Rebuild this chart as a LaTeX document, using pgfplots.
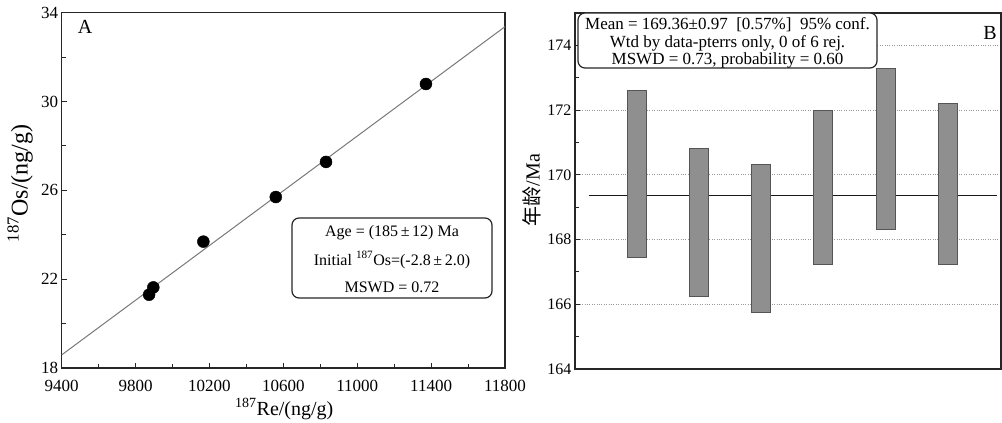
\documentclass[border=0pt]{standalone}
\usepackage{pgfplots}
\usepackage{pgfplotstable}
\pgfplotsset{compat=1.18}
\usepackage{fontspec}
\setmainfont{Liberation Serif}
\newfontfamily\cjk{Noto Sans CJK SC}
\definecolor{bargray}{RGB}{143,143,143}
\definecolor{baredge}{RGB}{85,85,85}
\definecolor{linegray}{RGB}{120,120,120}

\pgfplotstableread{
re os
9873 21.30
9896 21.63
10167 23.69
10559 25.70
10831 27.28
11372 30.79
}\redata

\pgfplotstableread{
x lo hi
1 167.44 172.61
2 166.23 170.80
3 165.74 170.31
4 167.23 171.99
5 168.31 173.29
6 167.23 172.20
}\agedata

\begin{document}
\begin{tikzpicture}[x=1pt,y=1pt]
\path[use as bounding box] (0,0) rectangle (1002,423);

% ---------------- Panel A
\begin{axis}[
  at={(61.7pt,55pt)}, anchor=south west, scale only axis,
  width=443.3pt, height=355.3pt,
  xmin=9400, xmax=11800, ymin=18, ymax=34,
  scaled x ticks=false, scaled y ticks=false,
  xtick={9400,9800,...,11800}, minor xtick={9600,10000,...,11600},
  ytick={18,22,...,34}, minor ytick={20,24,...,32},
  xtick pos=left, ytick pos=left, tick align=inside,
  major tick length=5pt, minor tick length=4pt,
  axis line style={line width=1.4pt, black!85},
  every tick/.style={black!85, line width=0.9pt},
  ticklabel style={font=\fontsize{17}{17}\selectfont},
  xticklabel style={yshift=-9pt},
  /pgf/number format/assume math mode=true,
  /pgf/number format/1000 sep={},
  xlabel={\textsuperscript{187}Re/(ng/g)},
  xlabel style={at={(axis description cs:0.502,-0.116)}, anchor=center, font=\fontsize{20}{20}\selectfont},
  ylabel={\textsuperscript{187}Os/(ng/g)},
  ylabel style={at={(axis description cs:-0.094,0.52)}, anchor=center, font=\fontsize{24}{24}\selectfont},
  clip=true,
]
\addplot[linegray, line width=1pt] coordinates {(9400,18.59) (11800,33.37)};
\addplot[only marks, mark=*, mark size=6pt, mark options={fill=black, draw=black}] table[x=re, y=os] {\redata};
\end{axis}

\node[font=\fontsize{20}{20}\selectfont] at (85,396) {A};
\draw[rounded corners=7pt, line width=1.2pt, black!85] (292,205) rectangle (492,125);
\node[font=\fontsize{16}{16}\selectfont] at (392,190) {Age = (185\,±\,12) Ma};
\node[font=\fontsize{16}{16}\selectfont] at (392,163) {Initial \textsuperscript{187}Os=(-2.8\,±\,2.0)};
\node[font=\fontsize{16}{16}\selectfont] at (392,136) {MSWD = 0.72};

% ---------------- Panel B: frame, grid, mean line
\begin{axis}[
  at={(575pt,54pt)}, anchor=south west, scale only axis,
  width=426pt, height=356pt,
  xmin=0, xmax=6.86, ymin=164, ymax=175,
  xtick=\empty,
  ytick={164,166,...,174}, minor ytick={165,167,...,173},
  ytick pos=left, tick align=inside,
  major tick length=5pt, minor tick length=4pt,
  ymajorgrids, grid style={dotted, line width=0.8pt, black!40},
  axis line style={line width=1.4pt, black!85},
  every tick/.style={black!85, line width=0.9pt},
  ticklabel style={font=\fontsize{16}{16}\selectfont},
  /pgf/number format/assume math mode=true,
  ylabel={{\cjk 年龄}/Ma},
  ylabel style={at={(axis description cs:-0.101,0.503)}, anchor=center, font=\fontsize{20}{20}\selectfont},
]
\addplot[black!90, line width=1.8pt] coordinates {(0.22,169.36) (6.8,169.36)};
\end{axis}

% ---------------- Panel B: floating bars
\begin{axis}[
  at={(575pt,54pt)}, anchor=south west, scale only axis,
  width=426pt, height=356pt,
  xmin=0, xmax=6.86, ymin=164, ymax=175,
  hide axis, ybar stacked, bar width=19pt,
]
\addplot[draw=none, fill=none] table[x=x, y=lo] {\agedata};
\addplot[fill=bargray, draw=baredge, line width=0.9pt] table[x=x, y expr=\thisrow{hi}-\thisrow{lo}] {\agedata};
\end{axis}

\node[font=\fontsize{20}{20}\selectfont] at (990,390) {B};
\draw[rounded corners=7pt, line width=1.2pt, black!85, fill=white] (578,410) rectangle (877,355);
\node[font=\fontsize{17}{17}\selectfont] at (727.5,398) {Mean = 169.36±0.97\ \ [0.57\%]\ \ 95\% conf.};
\node[font=\fontsize{17}{17}\selectfont] at (727.5,380) {Wtd by data-pterrs only, 0 of 6 rej.};
\node[font=\fontsize{17}{17}\selectfont] at (727.5,363) {MSWD = 0.73, probability = 0.60};
\end{tikzpicture}
\end{document}
